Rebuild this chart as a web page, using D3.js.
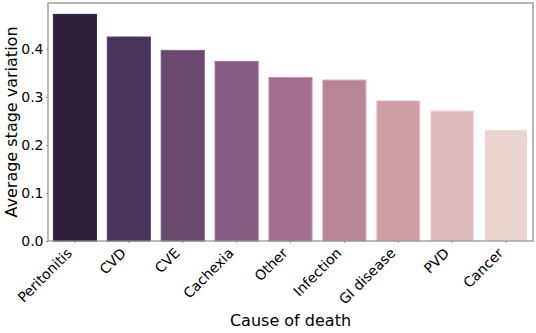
<!DOCTYPE html>
<html>
<head>
<meta charset="utf-8">
<script src="https://cdn.jsdelivr.net/npm/d3@7"></script>
<style>
  body { margin: 0; background: #fff; }
  text { font-family: "DejaVu Sans", sans-serif; fill: #000; }
</style>
</head>
<body>
<div id="chart"></div>
<script>
// causes of death, sorted by value
var causes = ["Peritonitis", "CVD", "CVE", "Cachexia", "Other", "Infection", "GI disease", "PVD", "Cancer"];
var variation = [0.4715, 0.4244, 0.3965, 0.3735, 0.3402, 0.3348, 0.2917, 0.2708, 0.2313];
var barColors = ["#2e2039", "#48345a", "#6a486f", "#875b7f", "#a2708e", "#b88598", "#cf9fa8", "#ddb9be", "#e9d3cf"];
var yTicks = [0.0, 0.1, 0.2, 0.3, 0.4];

var width = 536, height = 333;
var margin = { top: 3, right: 3, bottom: 92, left: 48 };
var w = width - margin.left - margin.right;
var h = height - margin.top - margin.bottom;

var svg = d3.select("#chart").append("svg")
    .attr("width", width)
    .attr("height", height);
var g = svg.append("g")
    .attr("transform", "translate(" + margin.left + "," + margin.top + ")");

var x = d3.scaleBand().domain(causes).range([0, w]).paddingInner(0.2).paddingOuter(0.1);
var y = d3.scaleLinear().domain([0, d3.max(variation) * 1.05]).range([h, 0]);

g.selectAll("rect.bar")
    .data(causes)
    .enter()
    .append("rect")
    .attr("class", "bar")
    .attr("x", function (d) { return x(d); })
    .attr("y", function (d, i) { return y(variation[i]); })
    .attr("width", x.bandwidth())
    .attr("height", function (d, i) { return h - y(variation[i]); })
    .style("fill", function (d, i) { return barColors[i]; })
    .style("stroke", function (d, i) { return d3.color(barColors[i]).brighter(0.6); })
    .style("stroke-width", 1);

var yAxis = g.append("g")
    .call(d3.axisLeft(y).tickValues(yTicks).tickFormat(d3.format(".1f")).tickSize(2).tickPadding(2.5));
var xAxis = g.append("g")
    .attr("transform", "translate(0," + h + ")")
    .call(d3.axisBottom(x).tickSize(2).tickPadding(2));

[yAxis, xAxis].forEach(function (ax) {
    ax.select(".domain").remove();
    ax.selectAll(".tick line").style("stroke", "#808080").style("stroke-width", 0.8);
    ax.selectAll(".tick text").style("font-size", "14px").style("font-family", "DejaVu Sans, sans-serif");
});

// rotated labels, right end hanging under the tick
xAxis.selectAll(".tick text")
    .attr("text-anchor", "end")
    .attr("x", 0)
    .attr("y", 0)
    .attr("dy", 0)
    .attr("transform", "translate(-2,13) rotate(-45)");

// frame
g.append("rect")
    .attr("width", w)
    .attr("height", h)
    .style("fill", "none")
    .style("stroke", "#8c8c8c")
    .style("stroke-width", 1.2);

svg.append("text")
    .attr("transform", "translate(17," + (margin.top + h / 2) + ") rotate(-90)")
    .attr("text-anchor", "middle")
    .style("font-size", "16px")
    .text("Average stage variation");

svg.append("text")
    .attr("x", margin.left + w / 2)
    .attr("y", 326)
    .attr("text-anchor", "middle")
    .style("font-size", "16px")
    .text("Cause of death");
</script>
</body>
</html>
